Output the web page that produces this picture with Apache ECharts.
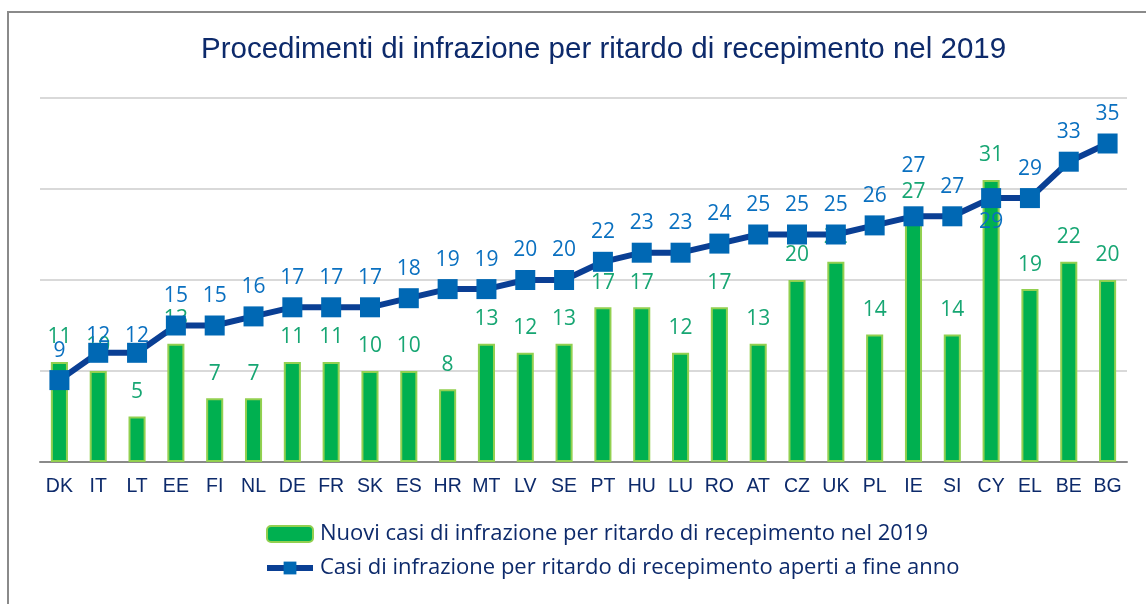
<!DOCTYPE html>
<html>
<head>
<meta charset="utf-8">
<script src="https://cdn.jsdelivr.net/npm/echarts@6/dist/echarts.min.js"></script>
<style>
  html, body { margin: 0; padding: 0; background: #fff; }
  #chart { width: 1146px; height: 604px; }
</style>
</head>
<body>
<div id="chart"></div>
<script>
let countries = ['DK', 'IT', 'LT', 'EE', 'FI', 'NL', 'DE', 'FR', 'SK', 'ES', 'HR', 'MT', 'LV', 'SE',
                 'PT', 'HU', 'LU', 'RO', 'AT', 'CZ', 'UK', 'PL', 'IE', 'SI', 'CY', 'EL', 'BE', 'BG'];
let newCases = [11, 10, 5, 13, 7, 7, 11, 11, 10, 10, 8, 13, 12, 13,
                17, 17, 12, 17, 13, 20, 22, 14, 27, 14, 31, 19, 22, 20];
let openCases = [9, 12, 12, 15, 15, 16, 17, 17, 17, 18, 19, 19, 20, 20,
                 22, 23, 23, 24, 25, 25, 25, 26, 27, 27, 29, 29, 33, 35];

let newName = 'Nuovi casi di infrazione per ritardo di recepimento nel 2019';
let openName = 'Casi di infrazione per ritardo di recepimento aperti a fine anno';

// a few labels were moved by hand in the original
let openData = openCases.map(function (v, i) {
    if (countries[i] === 'CY') {
        return { value: v, label: { position: 'bottom', distance: 3 } };
    }
    if (countries[i] === 'IE') {
        return { value: v, label: { distance: 30 } };
    }
    if (countries[i] === 'IT' || countries[i] === 'LT') {
        return { value: v, label: { distance: -4 } };
    }
    return v;
});

let chart = echarts.init(document.getElementById('chart'));
chart.setOption({
    animation: false,
    textStyle: { fontFamily: 'Liberation Sans' },
    title: {
        text: 'Procedimenti di infrazione per ritardo di recepimento nel 2019',
        left: 196,
        top: 30,
        textStyle: { fontFamily: 'Liberation Sans', fontSize: 29.5, fontWeight: 'normal', color: '#0d2a6b' }
    },
    graphic: [{
        type: 'rect',
        shape: { x: 8, y: 12, width: 1200, height: 700 },
        style: { fill: 'none', stroke: '#8a8a8a', lineWidth: 2 },
        silent: true
    }],
    legend: {
        orient: 'vertical',
        left: 259,
        top: 518,
        itemWidth: 46,
        itemHeight: 16,
        itemGap: 12,
        data: [
            { name: newName },
            { name: openName, lineStyle: { width: 6, color: '#0a3f94' }, itemStyle: { color: '#0068b4' } }
        ],
        textStyle: { fontFamily: 'Open Sans', fontSize: 22, color: '#0d2a6b', padding: [0, 0, 0, 2] }
    },
    grid: { left: 40, right: 19, top: 98, bottom: 142 },
    xAxis: {
        type: 'category',
        data: countries,
        axisLine: { lineStyle: { color: '#8a8a8a', width: 2 } },
        axisTick: { length: 7, lineStyle: { color: '#8a8a8a', width: 2 } },
        axisLabel: { interval: 0, fontFamily: 'Liberation Sans', fontSize: 19.5, color: '#0d2a6b', margin: 15 }
    },
    yAxis: {
        type: 'value',
        min: 0,
        max: 40,
        interval: 10,
        axisLabel: { show: false },
        axisLine: { show: false },
        axisTick: { show: false },
        splitLine: { lineStyle: { color: '#d9d9d9', width: 2 } }
    },
    series: [{
        name: newName,
        type: 'bar',
        data: newCases,
        barWidth: '44%',
        itemStyle: { color: '#00b050', borderColor: '#92d050', borderWidth: 2 },
        label: {
            show: true,
            position: 'top',
            distance: 14,
            fontFamily: 'Open Sans',
            fontSize: 21,
            color: '#17a673'
        }
    }, {
        name: openName,
        type: 'line',
        data: openData,
        symbol: 'rect',
        symbolSize: 20,
        lineStyle: { color: '#0a3f94', width: 6 },
        itemStyle: { color: '#0068b4' },
        label: {
            show: true,
            position: 'top',
            distance: 9,
            fontFamily: 'Open Sans',
            fontSize: 21,
            color: '#0a70c0'
        },
        z: 3
    }]
});
</script>
</body>
</html>
